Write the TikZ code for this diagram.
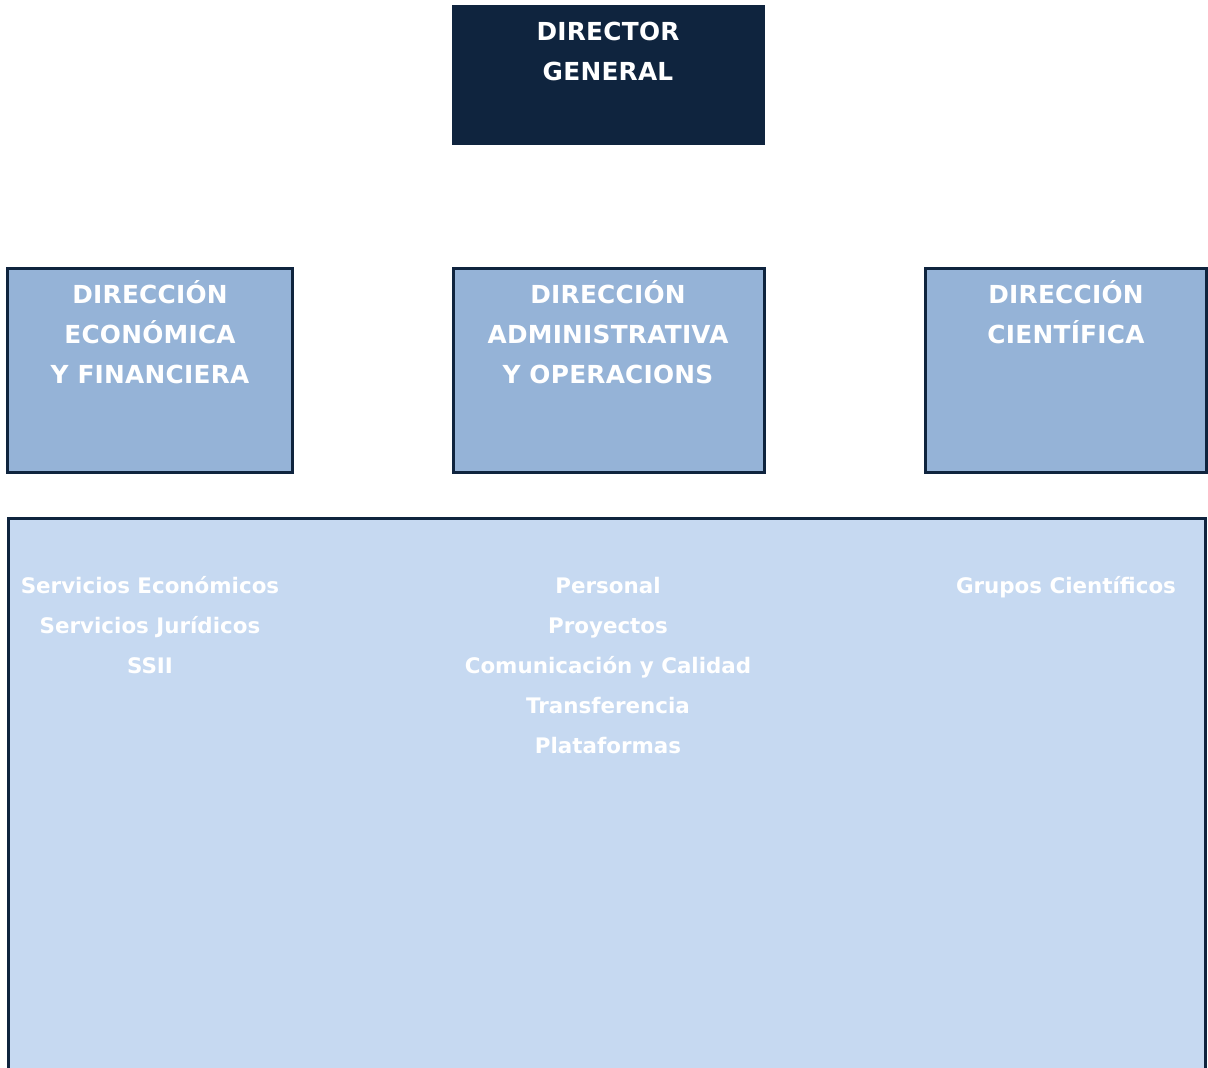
\documentclass[tikz,border=0pt]{standalone}
\usepackage{fontspec}
\setmainfont{DejaVu Sans}
\newfontfamily\capsfont[LetterSpace=1]{DejaVu Sans}

\definecolor{navy}{HTML}{0F243E}
\definecolor{midblue}{HTML}{95B3D7}
\definecolor{paleblue}{HTML}{C6D9F1}

\begin{document}
\begin{tikzpicture}[x=0.5pt,y=-0.5pt,
        dirbox/.style={draw=navy,line width=1.5pt,fill=midblue,minimum height=102pt,inner sep=0pt},
        head/.style={text=white,font=\capsfont\bfseries\fontsize{12.4}{14}\selectfont,anchor=base,inner sep=0pt},
        item/.style={text=white,font=\bfseries\fontsize{10.7}{13}\selectfont,anchor=base,inner sep=0pt}]
        \useasboundingbox (0,0) rectangle (1208,1068);
        % boxes
        \node[fill=navy,minimum width=156.5pt,minimum height=70pt,inner sep=0pt] (dg) at (608.5,75) {};
        \node[dirbox,minimum width=142.5pt] (eco) at (150,370.5) {};
        \node[dirbox,minimum width=155.5pt] (adm) at (609,370.5) {};
        \node[dirbox,minimum width=140.5pt] (cie) at (1065.5,370.5) {};
        \node[draw=navy,line width=1.5pt,fill=paleblue,minimum width=598.5pt,minimum height=285.75pt,inner sep=0pt] (area) at (607,804.25) {};
        % titles
        \foreach \t [count=\i] in {DIRECTOR,GENERAL}
            \node[head] (dg-\i) at (608,1+40*\i) {\t};
        \foreach \t [count=\i] in {DIRECCIÓN,ECONÓMICA,Y FINANCIERA}
            \node[head] (eco-\i) at (150,264+40*\i) {\t};
        \foreach \t [count=\i] in {DIRECCIÓN,ADMINISTRATIVA,Y OPERACIONS}
            \node[head] (adm-\i) at (608,264+40*\i) {\t};
        \foreach \t [count=\i] in {DIRECCIÓN,CIENTÍFICA}
            \node[head] (cie-\i) at (1066,264+40*\i) {\t};
        % units
        \foreach \t [count=\i] in {Servicios Económicos,Servicios Jurídicos,SSII}
            \node[item] (eco-u\i) at (150,553+40*\i) {\t};
        \foreach \t [count=\i] in {Personal,Proyectos,Comunicación y Calidad,Transferencia,Plataformas}
            \node[item] (adm-u\i) at (608,553+40*\i) {\t};
        \node[item] (cie-u1) at (1066,593) {Grupos Científicos};
\end{tikzpicture}
\end{document}
